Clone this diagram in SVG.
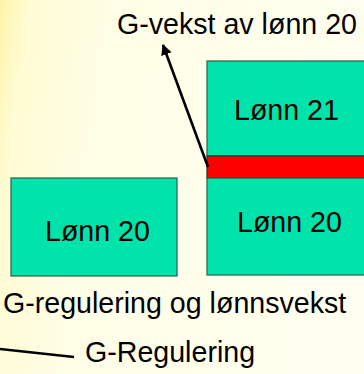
<svg xmlns="http://www.w3.org/2000/svg" width="364" height="374" viewBox="0 0 364 374">
<defs>
<linearGradient id="bg" x1="0" y1="0" x2="1" y2="0.15">
<stop offset="0" stop-color="#fff4a8"/>
<stop offset="0.08" stop-color="#fffbd2"/>
<stop offset="0.3" stop-color="#fffee6"/>
<stop offset="1" stop-color="#fffff0"/>
</linearGradient>
<marker id="ah" viewBox="0 0 10 10" refX="9" refY="5" markerWidth="4.2" markerHeight="4.2" orient="auto" markerUnits="strokeWidth">
<path d="M0,0 L10,5 L0,10 z" fill="#000"/>
</marker>
<style>
.box{fill:#00e3aa;stroke:#2d5e48;stroke-width:1.2}
.band{fill:#ff0000;stroke:#3a2a20;stroke-width:1.2}
.t{font-family:"Liberation Sans",Arial,sans-serif;font-size:28.6px;fill:#000}
.ln{stroke:#000;stroke-width:2.6;fill:none}
</style>
</defs>
<rect x="0" y="0" width="364" height="374" fill="url(#bg)"/>
<g id="left-box">
<rect class="box" x="11" y="178" width="166" height="98"/>
<text class="t" x="45" y="241">Lønn 20</text>
</g>
<g id="top-box">
<rect class="box" x="207" y="61" width="160" height="95"/>
<text class="t" x="234" y="120">Lønn 21</text>
</g>
<g id="band">
<rect class="band" x="207" y="156" width="160" height="22"/>
</g>
<g id="bottom-box">
<rect class="box" x="207" y="178" width="160" height="97"/>
<text class="t" x="237" y="232">Lønn 20</text>
</g>
<g id="labels">
<text class="t" x="117" y="34">G-vekst av lønn 20</text>
<text class="t" x="3" y="313">G-regulering og lønnsvekst</text>
<text class="t" x="85" y="362">G-Regulering</text>
</g>
<g id="connectors">
<line class="ln" x1="208" y1="167" x2="163" y2="45" marker-end="url(#ah)"/>
<line class="ln" x1="0" y1="349" x2="74" y2="357"/>
</g>
</svg>
